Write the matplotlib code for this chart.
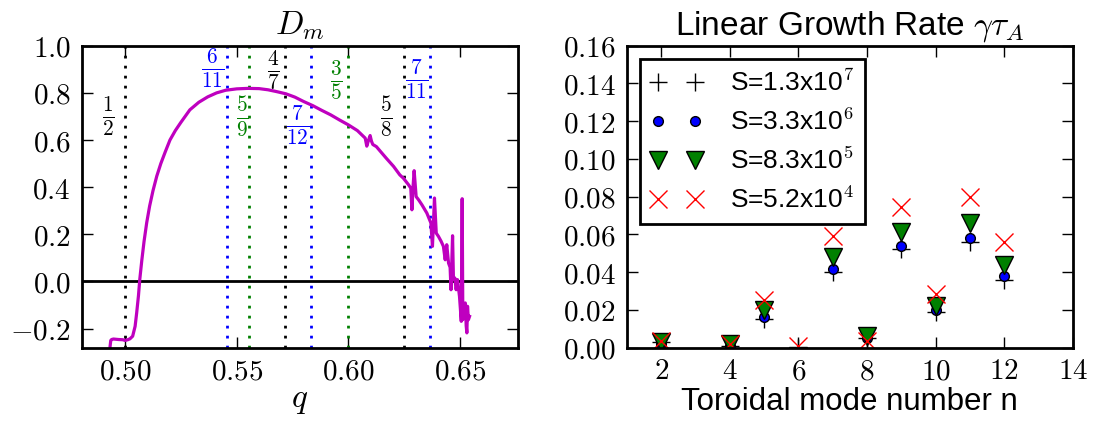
import numpy as np
import matplotlib
matplotlib.use("Agg")
import matplotlib.pyplot as plt
from matplotlib.ticker import FuncFormatter, MultipleLocator

# ---------------- data ----------------
q = [0.4933, 0.4936, 0.4940, 0.4948, 0.4970, 0.4990, 0.5000, 0.5012, 0.5022, 0.5034,
     0.5045, 0.5052, 0.5060, 0.5066, 0.5075, 0.5085, 0.5097, 0.5110, 0.5125, 0.5142,
     0.5160, 0.5180, 0.5201, 0.5225, 0.5250, 0.5290, 0.5330, 0.5370, 0.5410, 0.5450,
     0.5500, 0.5550, 0.5600, 0.5640, 0.5680, 0.5720, 0.5760, 0.5800, 0.5840, 0.5880,
     0.5920, 0.5960, 0.6000, 0.6040, 0.6075, 0.6082, 0.6090, 0.6097, 0.6103, 0.6109,
     0.6125, 0.6142, 0.6170, 0.6202, 0.6230, 0.6246, 0.6269, 0.6279, 0.6284, 0.6289,
     0.6294, 0.6303, 0.6315, 0.6329, 0.6351, 0.6369, 0.6376, 0.6380, 0.6385, 0.6393,
     0.6403, 0.6415, 0.6425, 0.6433, 0.6440, 0.6448, 0.6455, 0.6459, 0.6466, 0.6470,
     0.6476, 0.6482, 0.6488, 0.6497, 0.6505, 0.6509, 0.6512, 0.6518, 0.6523, 0.6527,
     0.6530, 0.6533, 0.6537, 0.6542]
Dm = [-0.275, -0.250, -0.246, -0.244, -0.246, -0.247, -0.250, -0.247, -0.243, -0.232,
      -0.190, -0.133, -0.060, 0.010, 0.090, 0.170, 0.250, 0.320, 0.385, 0.447,
      0.500, 0.550, 0.600, 0.640, 0.675, 0.728, 0.760, 0.783, 0.800, 0.811,
      0.817, 0.819, 0.818, 0.813, 0.805, 0.796, 0.782, 0.763, 0.746, 0.726,
      0.707, 0.685, 0.664, 0.640, 0.608, 0.574, 0.600, 0.619, 0.595, 0.581,
      0.572, 0.553, 0.522, 0.488, 0.452, 0.438, 0.410, 0.396, 0.304, 0.400,
      0.470, 0.360, 0.345, 0.325, 0.290, 0.248, 0.149, 0.240, 0.354, 0.205,
      0.191, 0.170, 0.149, 0.092, 0.156, 0.078, 0.060, -0.035, 0.194, 0.008,
      0.015, -0.035, 0.008, -0.063, -0.169, 0.351, -0.162, -0.100, -0.091, -0.188,
      -0.218, -0.105, -0.162, -0.148]

# rational surfaces: (numerator, denominator, colour, label x, label y)
rat_num = [1, 6, 5, 4, 7, 3, 5, 7]
rat_den = [2, 11, 9, 7, 12, 5, 8, 11]
rat_col = ['k', 'b', 'g', 'k', 'b', 'g', 'k', 'b']
rat_lab_x = [0.4924, 0.5394, 0.5524, 0.5662, 0.5774, 0.5944, 0.6168, 0.6307]
rat_lab_y = [0.70, 0.90, 0.70, 0.90, 0.66, 0.855, 0.70, 0.855]

n_modes = [2, 4, 5, 6, 7, 8, 9, 10, 11, 12]
gamma_S1 = [0.003, 0.001, 0.015, 0.000, 0.040, 0.005, 0.052, 0.019, 0.056, 0.036]
gamma_S2 = [0.002, 0.001, 0.016, -0.004, 0.0416, 0.005, 0.054, 0.020, 0.058, 0.038]
gamma_S3 = [0.003, 0.002, 0.020, -0.0045, 0.048, 0.006, 0.0615, 0.022, 0.066, 0.044]
gamma_S4 = [0.0035, 0.002, 0.025, 0.001, 0.059, 0.0035, 0.0745, 0.0285, 0.080, 0.056]
labels_S = [r'S=1.3x10$^{7}$', r'S=3.3x10$^{6}$', r'S=8.3x10$^{5}$', r'S=5.2x10$^{4}$']

# ---------------- style ----------------
plt.rcParams['font.family'] = ['Liberation Sans', 'DejaVu Sans']
plt.rcParams['mathtext.fontset'] = 'cm'
plt.rcParams['xtick.direction'] = 'in'
plt.rcParams['ytick.direction'] = 'in'
plt.rcParams['xtick.top'] = True
plt.rcParams['ytick.right'] = True
plt.rcParams['xtick.major.size'] = 8
plt.rcParams['ytick.major.size'] = 8
plt.rcParams['xtick.major.width'] = 1
plt.rcParams['ytick.major.width'] = 1
plt.rcParams['xtick.major.pad'] = 7
plt.rcParams['ytick.major.pad'] = 8
plt.rcParams['axes.linewidth'] = 2

FS = 21
LFS = 24

fig = plt.figure(figsize=(10.94, 4.22), dpi=100)
ax1 = fig.add_axes([0.0747, 0.1765, 0.3984, 0.7152])
ax2 = fig.add_axes([0.5729, 0.1765, 0.4079, 0.7152])

def mfmt(dec):
    return FuncFormatter(lambda v, p: '$%.*f$' % (dec, v))

# ---------------- left panel ----------------
for num, den, c, lx, ly in zip(rat_num, rat_den, rat_col, rat_lab_x, rat_lab_y):
    ax1.axvline(num / den, color=c, ls=(0, (1, 2.6)), lw=2, dash_capstyle='butt')
    ax1.text(lx, ly, r'$\frac{%d}{%d}$' % (num, den), color=c, fontsize=22,
             ha='center', va='center')
ax1.axhline(0.0, color='k', lw=2)
ax1.plot(q, Dm, color='m', lw=2.3)
ax1.set_xlim(0.4806, 0.6757)
ax1.set_ylim(-0.28, 1.0)
ax1.xaxis.set_major_locator(MultipleLocator(0.05))
ax1.yaxis.set_major_locator(MultipleLocator(0.2))
ax1.xaxis.set_major_formatter(mfmt(2))
ax1.yaxis.set_major_formatter(mfmt(1))
ax1.tick_params(labelsize=FS)
ax1.set_title(r'$D_m$', fontsize=LFS, pad=8)
ax1.set_xlabel(r'$q$', fontsize=LFS, labelpad=0)

# ---------------- right panel ----------------
ax2.plot(n_modes, gamma_S1, 'k+', ms=13, mew=1, label=labels_S[0])
ax2.plot(n_modes, gamma_S2, 'bo', ms=7, mew=1, mec='k', label=labels_S[1])
ax2.plot(n_modes, gamma_S3, 'gv', ms=13, mew=1, mec='k', label=labels_S[2])
ax2.plot(n_modes, gamma_S4, 'rx', ms=13, mew=1, label=labels_S[3])
ax2.set_xlim(1, 14)
ax2.set_ylim(0.0, 0.16)
ax2.xaxis.set_major_locator(MultipleLocator(2))
ax2.yaxis.set_major_locator(MultipleLocator(0.02))
ax2.xaxis.set_major_formatter(mfmt(0))
ax2.yaxis.set_major_formatter(mfmt(2))
ax2.tick_params(labelsize=FS)
ax2.set_title(r'Linear Growth Rate $\gamma\tau_A$', fontsize=LFS, pad=8)
ax2.set_xlabel('Toroidal mode number n', fontsize=22.5, labelpad=1)
leg = ax2.legend(loc='upper left', numpoints=2, fontsize=19, fancybox=False,
                 framealpha=1, edgecolor='k', borderaxespad=0.5, labelspacing=0.47,
                 handletextpad=1.0)
leg.get_frame().set_linewidth(2)

fig.savefig('out.png', dpi=100)
